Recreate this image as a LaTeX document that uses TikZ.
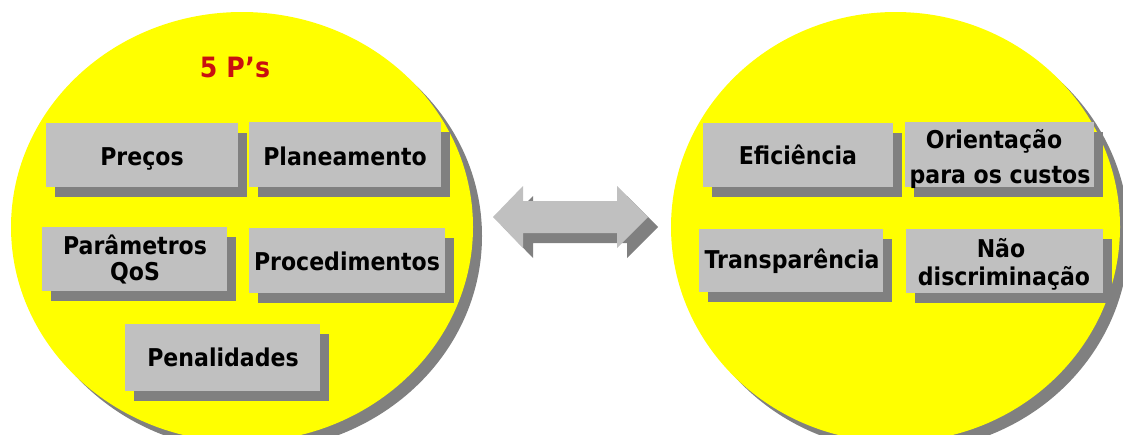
\documentclass[tikz,border=0pt]{standalone}
\usepackage{fontspec}
\setmainfont{DejaVu Sans}
\newfontfamily\condfont[FakeStretch=0.9]{DejaVu Sans}
\usetikzlibrary{shapes.geometric,shadows}
\definecolor{boxgray}{RGB}{192,192,192}
\definecolor{shadowgray}{RGB}{128,128,128}
\definecolor{pred}{RGB}{200,16,16}
\definecolor{ylw}{RGB}{255,255,0}
\begin{document}
\begin{tikzpicture}[x=1pt,y=-1pt,
  oval/.style={ellipse, fill=ylw, inner sep=0pt, draw=none,
    drop shadow={shadow xshift=9pt, shadow yshift=-9pt, fill=shadowgray, opacity=1}},
  card/.style={fill=boxgray, inner sep=0pt,
    drop shadow={shadow xshift=9pt, shadow yshift=-10pt, fill=shadowgray, opacity=1}},
  txt/.style={inner sep=0pt, anchor=base, font=\condfont\bfseries\fontsize{24.5}{28}\selectfont},
  ]
\useasboundingbox (0,0) rectangle (1123,434);
\clip (0,0) rectangle (1123,434);
\fill[white] (0,0) rectangle (1123,434);
% circles
\node[oval, minimum width=462pt, minimum height=430pt] (left) at (242,227) {};
\node[oval, minimum width=449pt, minimum height=430pt] (right) at (895.5,227) {};
% title
\node[inner sep=0pt, anchor=base, text=pred, font=\condfont\bfseries\fontsize{28}{32}\selectfont] (title) at (235,77) {5 P’s};
% left boxes
\node[card, minimum width=192pt, minimum height=64pt] (precos) at (142,155) {};
\node[card, minimum width=192pt, minimum height=65pt] (plan) at (345,154.5) {};
\node[card, minimum width=185pt, minimum height=64pt] (param) at (134.5,259) {};
\node[card, minimum width=196pt, minimum height=65pt] (proc) at (347,260.5) {};
\node[card, minimum width=195pt, minimum height=67pt] (pen) at (222.5,357.5) {};
\node[txt] (precost) at (142,165) {Preços};
\node[txt] (plant) at (345,165) {Planeamento};
\node[txt] (paramt) at (135,254) {Parâmetros};
\node[txt] (qost) at (135,280) {QoS};
\node[txt] (proct) at (347,270) {Procedimentos};
\node[txt] (pent) at (223,366) {Penalidades};
% right boxes
\node[card, minimum width=190pt, minimum height=64pt] (efic) at (798,155) {};
\node[card, minimum width=189pt, minimum height=65pt] (orient) at (999.5,154.5) {};
\node[card, minimum width=184pt, minimum height=63pt] (transp) at (791,260.5) {};
\node[card, minimum width=197pt, minimum height=64pt] (naod) at (1004.5,261) {};
\node[txt] (efict) at (798,164) {Eficiência};
\node[txt] (orientt) at (994,148) {Orientação};
\node[txt] (custost) at (1000,183) {para os custos};
\node[txt] (transpt) at (792,268) {Transparência};
\node[txt] (naot) at (1001,257) {Não};
\node[txt] (discrt) at (1004,285) {discriminação};
% double arrow
\fill[shadowgray, shift={(10,10)}] (493,217) -- (523,186) -- (523,201) -- (617,201) -- (617,186)
  -- (648,217) -- (617,248) -- (617,233) -- (523,233) -- (523,248) -- cycle;
\fill[boxgray] (493,217) -- (523,186) -- (523,201) -- (617,201) -- (617,186)
  -- (648,217) -- (617,248) -- (617,233) -- (523,233) -- (523,248) -- cycle;
\end{tikzpicture}
\end{document}
